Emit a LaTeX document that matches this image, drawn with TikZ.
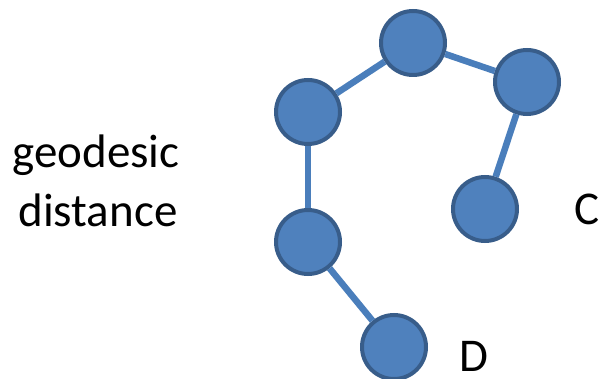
\documentclass[tikz,border=0pt]{standalone}
\usepackage{fontspec}
\setmainfont{Carlito}
\definecolor{nodefill}{HTML}{4F81BD}
\definecolor{nodeedge}{HTML}{385D8A}
\definecolor{linkcol}{HTML}{4A7EBB}
\begin{document}
\begin{tikzpicture}[x=1pt,y=-1pt,
  vert/.style={circle,fill=nodefill,draw=nodeedge,line width=4pt,minimum size=64pt,inner sep=0pt},
  link/.style={draw=linkcol,line width=6.5pt},
  lbl/.style={font=\fontsize{47}{56}\selectfont,inner sep=0pt}]
\useasboundingbox (0,0) rectangle (599,379);
\node[vert] (n1) at (308,112) {};
\node[vert] (n2) at (413,43) {};
\node[vert] (n3) at (527,82) {};
\node[vert] (n4) at (485,209) {};
\node[vert] (n5) at (308,242) {};
\node[vert] (n6) at (394,347) {};
\draw[link] (n1) -- (n2);
\draw[link] (n2) -- (n3);
\draw[link] (n3) -- (n4);
\draw[link] (n1) -- (n5);
\draw[link] (n5) -- (n6);
\node[lbl,anchor=base] (t1) at (96,168) {geodesic};
\node[lbl,anchor=base] (t2) at (98,226) {distance};
\node[lbl,anchor=base west] (c) at (574,225) {C};
\node[lbl,anchor=base west] (d) at (459,371) {D};
\end{tikzpicture}
\end{document}
